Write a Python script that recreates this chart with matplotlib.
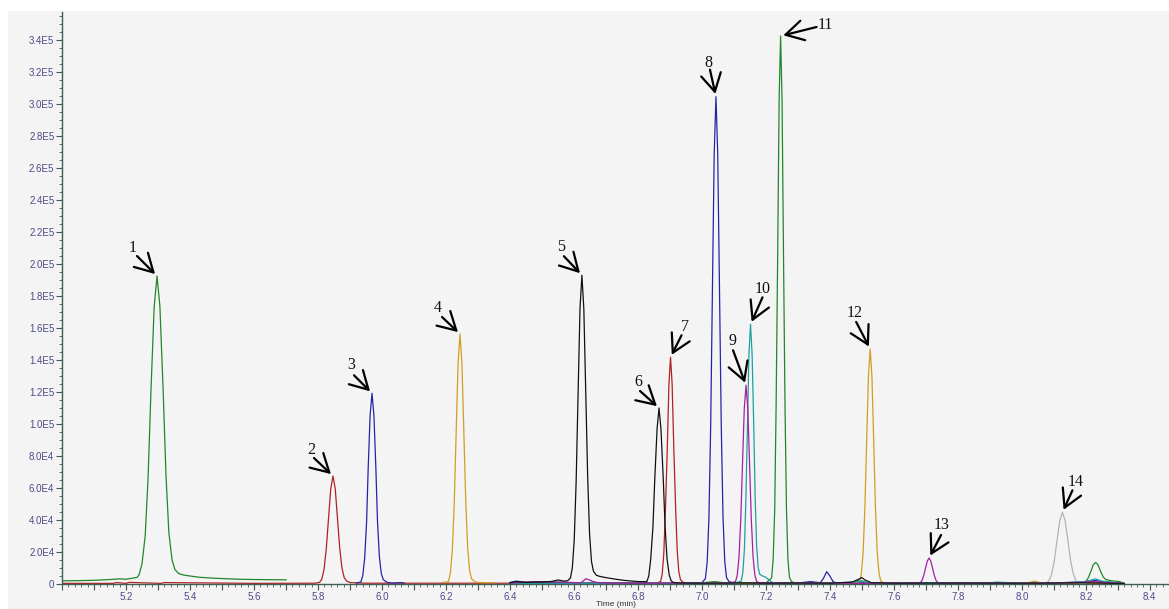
import numpy as np
import matplotlib
matplotlib.use("Agg")
import matplotlib.pyplot as plt
from matplotlib.patches import Rectangle
from matplotlib.ticker import MultipleLocator, FuncFormatter

plt.rcParams['font.family'] = ['Liberation Sans', 'DejaVu Sans']

# ---- chromatogram traces (time in min, intensity in counts) ----
red_t = [5.00, 5.16, 5.17, 5.20, 5.21, 5.31, 5.32, 5.60, 5.79, 5.805, 5.812, 5.819,
         5.826, 5.833, 5.840, 5.847, 5.854, 5.861, 5.868, 5.875, 5.882, 5.890, 5.90,
         5.95, 6.40, 6.50, 6.60, 6.70, 6.80, 6.86, 6.871, 6.876, 6.881, 6.886, 6.892,
         6.897, 6.902, 6.907, 6.912, 6.918, 6.923, 6.928, 6.933, 6.94, 6.95, 7.10,
         7.30, 7.50, 7.70, 7.90, 8.10, 8.20, 8.32]
red_i = [400, 400, 900, 400, 1000, 400, 900, 400, 500, 1000, 3000, 9100,
         21900, 40900, 59600, 67500, 59600, 41000, 22500, 10000, 4000, 1800, 900,
         500, 500, 700, 500, 600, 500, 600, 1600, 6200, 19200, 46000, 85900,
         125000, 141700, 125000, 86500, 47000, 20500, 7500, 2800, 1200, 600, 500,
         600, 500, 500, 600, 500, 800, 400]

green_a_t = [5.00, 5.05, 5.10, 5.15, 5.18, 5.20, 5.22, 5.235, 5.241, 5.250, 5.260,
             5.269, 5.278, 5.288, 5.297, 5.306, 5.316, 5.325, 5.334, 5.344, 5.353,
             5.365, 5.38, 5.40, 5.43, 5.46, 5.50, 5.55, 5.60, 5.65, 5.70]
green_a_i = [2000, 2100, 2300, 2800, 3200, 3000, 3600, 4200, 5800, 12500, 30000,
             66000, 120500, 173000, 192500, 173500, 121500, 68000, 32000, 15000, 9000,
             6500, 5600, 5000, 4200, 3800, 3400, 3000, 2800, 2700, 2600]

green_b_t = [6.40, 6.50, 6.60, 6.70, 6.80, 6.90, 7.00, 7.04, 7.06, 7.08, 7.15, 7.20,
             7.218, 7.2227, 7.2276, 7.232, 7.237, 7.2414, 7.246, 7.2506, 7.255, 7.2598,
             7.2644, 7.269, 7.2736, 7.28, 7.29, 7.35, 7.45, 7.48, 7.49, 7.50, 7.52,
             7.60, 7.70, 7.80, 7.90, 8.00, 8.10, 8.19, 8.20, 8.208, 8.216, 8.223,
             8.231, 8.238, 8.246, 8.254, 8.262, 8.275, 8.29, 8.305, 8.315, 8.32]
green_b_i = [300, 500, 400, 500, 400, 600, 700, 1500, 1000, 600, 500, 600,
             3800, 15000, 46300, 111200, 207700, 302200, 342500, 302200, 208000, 111500,
             46500, 15200, 4200, 1500, 700, 500, 600, 1200, 2500, 1500, 600,
             500, 600, 500, 700, 600, 500, 800, 1500, 4000, 8000, 12000,
             13500, 12000, 8000, 4500, 2800, 2200, 1800, 1500, 800, 300]

blue_a_t = [5.92, 5.934, 5.940, 5.946, 5.952, 5.957, 5.963, 5.969, 5.975, 5.981,
            5.986, 5.992, 5.998, 6.004, 6.012, 6.02, 6.04, 6.06, 6.07]
blue_a_i = [500, 1300, 5200, 16100, 38700, 72300, 105200, 119200, 105200, 72500,
            39500, 17000, 6500, 2800, 1500, 800, 600, 900, 500]

blue_b_t = [6.40, 6.42, 6.45, 6.50, 6.55, 6.60, 6.65, 6.70, 6.80, 6.90, 6.95, 7.00,
            7.011, 7.0165, 7.022, 7.0275, 7.033, 7.0385, 7.044, 7.0495, 7.055, 7.0605,
            7.066, 7.0715, 7.077, 7.085, 7.095, 7.15, 7.25, 7.30, 7.34, 7.37, 7.38,
            7.39, 7.40, 7.41, 7.42, 7.50, 7.60, 7.70, 7.80, 7.90, 8.00, 8.10, 8.18,
            8.21, 8.23, 8.25, 8.28, 8.32]
blue_b_i = [900, 1800, 1000, 1200, 800, 700, 600, 700, 500, 600, 500, 700,
            3400, 13400, 41200, 98900, 184700, 268800, 304600, 268800, 185000, 99500,
            42000, 14000, 4000, 1500, 800, 600, 700, 600, 1500, 800, 3500,
            7700, 5000, 1500, 700, 600, 500, 600, 500, 600, 500, 600, 1200,
            1800, 2200, 1500, 1000, 300]

gold_a_t = [6.19, 6.20, 6.208, 6.214, 6.220, 6.226, 6.232, 6.238, 6.244, 6.250,
            6.256, 6.262, 6.268, 6.274, 6.280, 6.29, 6.30, 6.32, 6.35]
gold_a_i = [1000, 1100, 1700, 6900, 21100, 50700, 94800, 137900, 156250, 137900,
            95000, 51500, 22500, 8500, 3300, 1500, 1000, 800, 700]

gold_b_t = [6.40, 6.60, 6.80, 7.00, 7.20, 7.40, 7.48, 7.493, 7.4985, 7.504, 7.5095,
            7.515, 7.5205, 7.526, 7.5315, 7.537, 7.5425, 7.548, 7.5535, 7.559, 7.567,
            7.58, 7.70, 7.90, 8.02, 8.04, 8.06, 8.20, 8.32]
gold_b_i = [300, 400, 300, 400, 300, 400, 600, 1600, 6500, 19900, 47700,
            89100, 129600, 146900, 129600, 89100, 47700, 20000, 6800, 2000, 800,
            400, 300, 400, 800, 1800, 600, 400, 300]

black_t = [6.40, 6.42, 6.45, 6.48, 6.50, 6.53, 6.55, 6.57, 6.58, 6.589, 6.595, 6.601,
           6.607, 6.613, 6.619, 6.625, 6.631, 6.637, 6.643, 6.649, 6.655, 6.661, 6.67,
           6.68, 6.70, 6.73, 6.76, 6.80, 6.828, 6.834, 6.840, 6.847, 6.853, 6.860,
           6.866, 6.872, 6.879, 6.885, 6.891, 6.898, 6.904, 6.91, 6.93, 7.00, 7.10,
           7.20, 7.30, 7.40, 7.47, 7.49, 7.50, 7.51, 7.53, 7.60, 7.80, 8.00, 8.20, 8.32]
black_i = [800, 1500, 1000, 1300, 1200, 1600, 2500, 1800, 2000, 3700, 10000, 27500,
           64000, 118500, 172000, 193000, 172000, 120000, 67000, 31000, 14000, 8000, 5500,
           4800, 4000, 3000, 2200, 1500, 1500, 5000, 15400, 35700, 66700, 97100,
           110000, 97100, 67000, 36000, 15800, 5500, 2000, 1000, 600, 500, 600,
           500, 600, 500, 1200, 3000, 4000, 2500, 800, 500, 600, 500, 700, 300]

magenta_t = [6.40, 6.45, 6.50, 6.55, 6.60, 6.62, 6.63, 6.637, 6.645, 6.66, 6.68, 6.72,
             6.80, 6.90, 7.00, 7.08, 7.105, 7.1105, 7.116, 7.1215, 7.127, 7.1325, 7.138,
             7.1435, 7.149, 7.1545, 7.160, 7.1655, 7.171, 7.18, 7.20, 7.30, 7.40, 7.50,
             7.60, 7.677, 7.6825, 7.688, 7.6935, 7.699, 7.7045, 7.71, 7.7155, 7.721,
             7.7265, 7.732, 7.7375, 7.745, 7.80, 7.90, 8.00, 8.10, 8.18, 8.22, 8.26, 8.32]
magenta_i = [500, 1200, 1500, 1300, 900, 600, 2000, 3300, 2800, 1500, 700, 500,
             400, 500, 400, 500, 1400, 5500, 16800, 40300, 75300, 109600, 124200,
             109600, 75300, 40300, 17000, 5700, 1600, 600, 500, 600, 500, 400,
             500, 500, 700, 2200, 5300, 9900, 14300, 16250, 14300, 9900,
             5300, 2200, 800, 300, 400, 500, 400, 500, 1000, 1500, 1000, 300]

teal_t = [6.40, 6.60, 6.80, 7.00, 7.10, 7.123, 7.128, 7.133, 7.1375, 7.1424, 7.147,
          7.152, 7.157, 7.162, 7.1665, 7.171, 7.176, 7.181, 7.19, 7.20, 7.21, 7.22,
          7.23, 7.30, 7.40, 7.48, 7.50, 7.52, 7.60, 7.80, 7.90, 7.92, 8.00, 8.10,
          8.20, 8.23, 8.25, 8.32]
teal_i = [300, 400, 300, 500, 400, 1800, 7100, 22000, 52700, 98400, 143200,
          162300, 143500, 99500, 54000, 24000, 10000, 6000, 5000, 4200, 2500, 1000,
          500, 600, 500, 1200, 2000, 800, 500, 600, 600, 1200, 500, 600,
          1500, 3200, 1800, 300]

grey_t = [8.06, 8.076, 8.0845, 8.093, 8.1015, 8.110, 8.1185, 8.127, 8.1355, 8.144,
          8.1525, 8.161, 8.1695, 8.178, 8.19, 8.20]
grey_i = [300, 500, 2000, 6100, 14500, 27200, 39500, 44800, 39500, 27200,
          14500, 6100, 2000, 600, 300, 300]

# ---- numbered peaks (apex time, apex intensity) ----
peak_labels = ['1', '2', '3', '4', '5', '6', '7', '8', '9', '10', '11', '12', '13', '14']
peak_t = [5.297, 5.847, 5.969, 6.244, 6.625, 6.866, 6.902, 7.044, 7.138, 7.152,
          7.246, 7.526, 7.71, 8.127]
peak_i = [192500, 67500, 119200, 156250, 193000, 110000, 141700, 304600, 124200,
          162300, 342500, 146900, 16250, 44800]

# arrow tail and label offsets from apex, pixels
tail_off = [(-20, 20), (-19, 18), (-18, 18), (-18, 17), (-18, 19), (-19, 17), (11, 22),
            (-6, 27), (-13, 35), (12, 27), (36, 9), (-14, 27), (12, 23), (10, 22)]
label_off = [(-24, 28), (-22, 26), (-21, 28), (-22, 26), (-21, 28), (-21, 26), (14, 30),
             (-8, 34), (-14, 44), (12, 35), (45, 11), (-16, 36), (13, 33), (13, 30)]

traces = [
    (red_t, red_i, '#b02222'),
    (green_a_t, green_a_i, '#23862a'),
    (green_b_t, green_b_i, '#23862a'),
    (blue_a_t, blue_a_i, '#2424a8'),
    (blue_b_t, blue_b_i, '#2424a8'),
    (gold_a_t, gold_a_i, '#d19e24'),
    (gold_b_t, gold_b_i, '#d19e24'),
    (grey_t, grey_i, '#b4b4b4'),
    (teal_t, teal_i, '#1fa0a0'),
    (magenta_t, magenta_i, '#a51fa5'),
    (black_t, black_i, '#111111'),
]

fig = plt.figure(figsize=(11.69, 6.09), dpi=100)
fig.patch.set_facecolor('white')
fig.patches.append(Rectangle((8 / 1169, 0), 1, 1 - 11 / 609, transform=fig.transFigure,
                             facecolor='#f4f4f4', edgecolor='none', zorder=-10))
ax = fig.add_axes([62 / 1169, 1 - 584 / 609, 1 - 62 / 1169, 572 / 609])
ax.set_facecolor('none')

for t, y, c in traces:
    ax.plot(t, y, color=c, lw=0.9)

ax.set_xlim(5.0, 8.46)
ax.set_ylim(0, 357500)

axis_col = '#3d5c58'
for s in ['top', 'right']:
    ax.spines[s].set_visible(False)
for s in ['left', 'bottom']:
    ax.spines[s].set_color(axis_col)
    ax.spines[s].set_linewidth(1.0)


def yfmt(v, pos):
    v = int(round(v))
    if v == 0:
        return '0'
    e = len(str(v)) - 1
    return '%.1fE%d' % (v / 10 ** e, e)


def xfmt(v, pos):
    k = int(round(v * 10))
    if k % 2 == 0 and k != 50:
        return '%.1f' % v
    return ''


ax.yaxis.set_major_locator(MultipleLocator(20000))
ax.yaxis.set_minor_locator(MultipleLocator(5000))
ax.yaxis.set_major_formatter(FuncFormatter(yfmt))
ax.xaxis.set_major_locator(MultipleLocator(0.1))
ax.xaxis.set_minor_locator(MultipleLocator(0.02))
ax.xaxis.set_major_formatter(FuncFormatter(xfmt))

ax.tick_params(which='major', length=4, width=0.8, color=axis_col, labelsize=7,
               labelcolor='#4b4b88', pad=1.5)
ax.tick_params(which='minor', length=2, width=0.6, color=axis_col)
ax.tick_params(axis='x', which='major', pad=2)

ax.set_xlabel('Time (min)', fontsize=6, color='#333333')
ax.xaxis.set_label_coords(0.5, -21 / 572)
ax.xaxis.label.set_va('center')

for lab, t, y, to, lo in zip(peak_labels, peak_t, peak_i, tail_off, label_off):
    ax.annotate('', xy=(t, y), xytext=to, textcoords='offset pixels',
                arrowprops=dict(arrowstyle='->,head_length=0.8,head_width=0.45',
                                lw=1.6, color='black', shrinkA=0, shrinkB=2,
                                mutation_scale=16))
    ax.annotate(lab, xy=(t, y), xytext=lo, textcoords='offset pixels',
                ha='center', va='center', fontsize=11.5, family='Liberation Serif',
                color='#111111')

fig.savefig('out.png', dpi=100)
